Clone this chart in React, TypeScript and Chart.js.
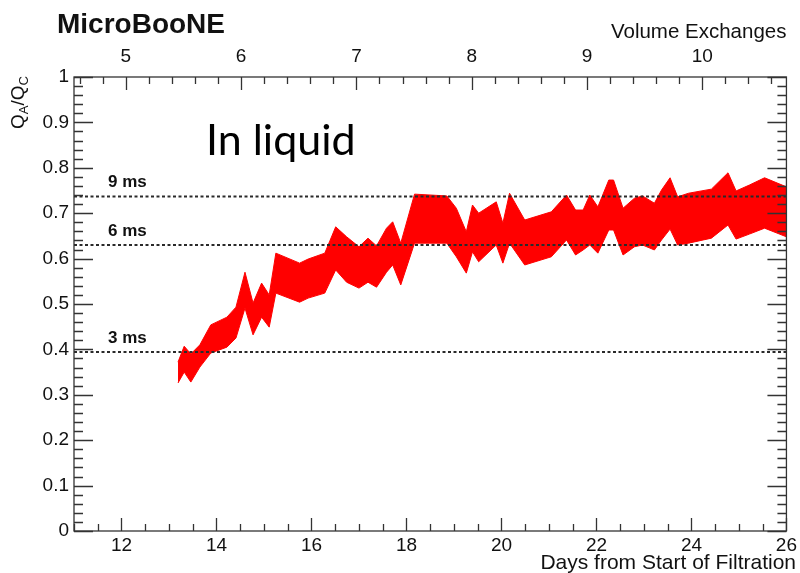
import { useEffect, useRef } from "react";
import { Chart, registerables } from "chart.js";

Chart.register(...registerables);

// Days since the start of filtration at which the band vertices sit
const DAYS = [
  13.19, 13.32, 13.46, 13.65, 13.88, 14.22, 14.41, 14.6, 14.77, 14.95,
  15.11, 15.25, 15.75, 15.93, 16.28, 16.51, 16.74, 17.0, 17.19, 17.37,
  17.58, 17.71, 17.88, 18.17, 18.85, 19.05, 19.26, 19.39, 19.52, 19.89,
  20.03, 20.17, 20.49, 21.05, 21.37, 21.56, 21.72, 21.86, 22.03, 22.26,
  22.36, 22.56, 22.8, 22.97, 23.22, 23.37, 23.55, 23.71, 23.94, 24.42,
  24.77, 24.94, 25.22, 25.54, 26.0,
];

// Upper edge of the QA/QC band
const UPPER = [
  0.372, 0.407, 0.39, 0.41, 0.454, 0.471, 0.493, 0.57, 0.502, 0.546,
  0.52, 0.612, 0.59, 0.599, 0.612, 0.67, 0.648, 0.626, 0.645, 0.628,
  0.667, 0.681, 0.634, 0.742, 0.738, 0.711, 0.659, 0.718, 0.7, 0.725,
  0.678, 0.744, 0.685, 0.703, 0.74, 0.707, 0.707, 0.74, 0.714, 0.773,
  0.773, 0.711, 0.733, 0.738, 0.722, 0.751, 0.778, 0.736, 0.744, 0.753,
  0.789, 0.749, 0.762, 0.778, 0.758,
];

// Lower edge of the QA/QC band
const LOWER = [
  0.326, 0.35, 0.328, 0.361, 0.392, 0.405, 0.425, 0.491, 0.432, 0.471,
  0.449, 0.524, 0.504, 0.513, 0.524, 0.575, 0.548, 0.535, 0.548, 0.537,
  0.57, 0.586, 0.542, 0.634, 0.634, 0.604, 0.568, 0.615, 0.593, 0.63,
  0.59, 0.634, 0.586, 0.604, 0.641, 0.608, 0.619, 0.63, 0.612, 0.663,
  0.663, 0.608, 0.626, 0.63, 0.619, 0.641, 0.665, 0.63, 0.634, 0.645,
  0.674, 0.643, 0.654, 0.667, 0.648,
];

// Electron-lifetime reference levels
const LEVEL_LABELS = ["9 ms", "6 ms", "3 ms"];
const LEVEL_VALUES = [0.737, 0.63, 0.394];

// Axis ranges
const DAY_MIN = 11;
const DAY_MAX = 26;
const RATIO_MIN = 0;
const RATIO_MAX = 1;
const EXCHANGE_MIN = 4.55;
const EXCHANGE_MAX = 10.73;

const SANS = '"Liberation Sans", Arial, Helvetica, sans-serif';
const AXIS_COLOR = "#333";
const TEXT_COLOR = "#111";

const rootFrame = {
  id: "rootFrame",
  afterDatasetsDraw(chart: any) {
    const { ctx, chartArea: a, scales } = chart;
    const y = scales.y;
    const x = scales.x;
    const xt = scales.xTop;
    ctx.save();
    ctx.strokeStyle = AXIS_COLOR;
    ctx.lineWidth = 1.3;
    ctx.strokeRect(a.left, a.top, a.right - a.left, a.bottom - a.top);
    ctx.beginPath();
    // ratio ticks on both vertical sides, pointing inward
    for (let i = 0; i <= 50; i++) {
      const py = Math.round(y.getPixelForValue(RATIO_MIN + i * 0.02)) + 0.5;
      const len = i % 5 === 0 ? 19 : 9;
      ctx.moveTo(a.left, py);
      ctx.lineTo(a.left + len, py);
      ctx.moveTo(a.right, py);
      ctx.lineTo(a.right - len, py);
    }
    // day ticks on the bottom edge
    for (let i = DAY_MIN * 2; i <= DAY_MAX * 2; i++) {
      const d = i / 2;
      const px = Math.round(x.getPixelForValue(d)) + 0.5;
      const len = i % 4 === 0 ? 13 : 7;
      ctx.moveTo(px, a.bottom);
      ctx.lineTo(px, a.bottom - len);
    }
    // volume-exchange ticks on the top edge
    for (let k = Math.ceil(EXCHANGE_MIN * 5); k <= Math.floor(EXCHANGE_MAX * 5); k++) {
      const px = Math.round(xt.getPixelForValue(k / 5)) + 0.5;
      const len = k % 5 === 0 ? 13 : 7;
      ctx.moveTo(px, a.top);
      ctx.lineTo(px, a.top + len);
    }
    ctx.stroke();
    ctx.restore();
  },
  afterDraw(chart: any) {
    const { ctx, chartArea: a, scales } = chart;
    const y = scales.y;
    ctx.save();
    ctx.fillStyle = TEXT_COLOR;
    ctx.textBaseline = "alphabetic";

    ctx.font = `bold 28px ${SANS}`;
    ctx.textAlign = "left";
    ctx.fillText("MicroBooNE", 57, 33);

    ctx.font = `20.5px ${SANS}`;
    ctx.textAlign = "right";
    ctx.fillText("Volume Exchanges", a.right, 38);
    ctx.font = `21px ${SANS}`;
    ctx.fillText("Days from Start of Filtration", 796, 569);

    ctx.font = `bold 17px ${SANS}`;
    ctx.textAlign = "left";
    LEVEL_LABELS.forEach((lab, i) => {
      ctx.fillText(lab, 108, y.getPixelForValue(LEVEL_VALUES[i]) - 9);
    });

    ctx.fillStyle = "#000";
    ctx.font = `43px Lato, "Open Sans", sans-serif`;
    ctx.fillText("In liquid", 206, 155);

    // vertical axis title Q_A / Q_C
    ctx.fillStyle = TEXT_COLOR;
    ctx.translate(24, 129);
    ctx.rotate(-Math.PI / 2);
    let cx = 0;
    const part = (t: string, size: number, dy: number) => {
      ctx.font = `${size}px ${SANS}`;
      ctx.fillText(t, cx, dy);
      cx += ctx.measureText(t).width;
    };
    part("Q", 19, 0);
    part("A", 13, 4);
    part("/", 19, 0);
    part("Q", 19, 0);
    part("C", 13, 4);
    ctx.restore();
  },
};

export default function App() {
  const canvasRef = useRef<HTMLCanvasElement | null>(null);

  useEffect(() => {
    if (!canvasRef.current) return;
    const upper = DAYS.map((d, i) => ({ x: d, y: UPPER[i] }));
    const lower = DAYS.map((d, i) => ({ x: d, y: LOWER[i] }));
    const levelSets = LEVEL_VALUES.map((v, i) => ({
      label: LEVEL_LABELS[i],
      data: [
        { x: DAY_MIN, y: v },
        { x: DAY_MAX, y: v },
      ],
      showLine: true,
      borderColor: "#2a2a2a",
      borderWidth: 2,
      borderDash: [3, 2.5],
      pointRadius: 0,
      fill: false,
      order: 1,
    }));

    const tickFont = { family: SANS, size: 19 };
    const chart = new Chart(canvasRef.current, {
      type: "scatter",
      data: {
        datasets: [
          ...levelSets,
          {
            label: "upper",
            data: upper,
            showLine: true,
            borderColor: "#ff0000",
            borderWidth: 1,
            backgroundColor: "#ff0000",
            pointRadius: 0,
            fill: "+1",
            order: 2,
          },
          {
            label: "lower",
            data: lower,
            showLine: true,
            borderColor: "#ff0000",
            borderWidth: 1,
            pointRadius: 0,
            fill: false,
            order: 2,
          },
        ],
      },
      options: {
        animation: false,
        responsive: false,
        maintainAspectRatio: false,
        devicePixelRatio: 1,
        layout: { padding: { left: 0, right: 5, top: 0, bottom: 0 } },
        plugins: { legend: { display: false }, tooltip: { enabled: false } },
        scales: {
          x: {
            type: "linear",
            position: "bottom",
            min: DAY_MIN,
            max: DAY_MAX,
            grid: { display: false, drawTicks: false },
            border: { display: false },
            ticks: {
              stepSize: 2,
              includeBounds: false,
              autoSkip: false,
              maxRotation: 0,
              padding: 3,
              font: tickFont,
              color: TEXT_COLOR,
            },
            afterFit: (s: any) => {
              s.height = 42;
            },
          },
          xTop: {
            type: "linear",
            position: "top",
            min: EXCHANGE_MIN,
            max: EXCHANGE_MAX,
            grid: { display: false, drawTicks: false },
            border: { display: false },
            ticks: {
              stepSize: 1,
              includeBounds: false,
              autoSkip: false,
              maxRotation: 0,
              padding: 9,
              font: tickFont,
              color: TEXT_COLOR,
            },
            afterFit: (s: any) => {
              s.height = 77;
            },
          },
          y: {
            type: "linear",
            min: RATIO_MIN,
            max: RATIO_MAX,
            grid: { display: false, drawTicks: false },
            border: { display: false },
            ticks: {
              stepSize: 0.1,
              includeBounds: false,
              autoSkip: false,
              padding: 5,
              font: tickFont,
              color: TEXT_COLOR,
              callback: (v: any) => String(Math.round(Number(v) * 10) / 10),
            },
            afterFit: (s: any) => {
              s.width = 74;
            },
          },
        },
      },
      plugins: [rootFrame],
    } as any);
    return () => chart.destroy();
  }, []);

  return (
    <div
      style={{
        position: "fixed",
        left: 0,
        top: 0,
        width: 800,
        height: 573,
        background: "#fff",
      }}
    >
      <canvas ref={canvasRef} width={800} height={573} style={{ display: "block" }} />
    </div>
  );
}
